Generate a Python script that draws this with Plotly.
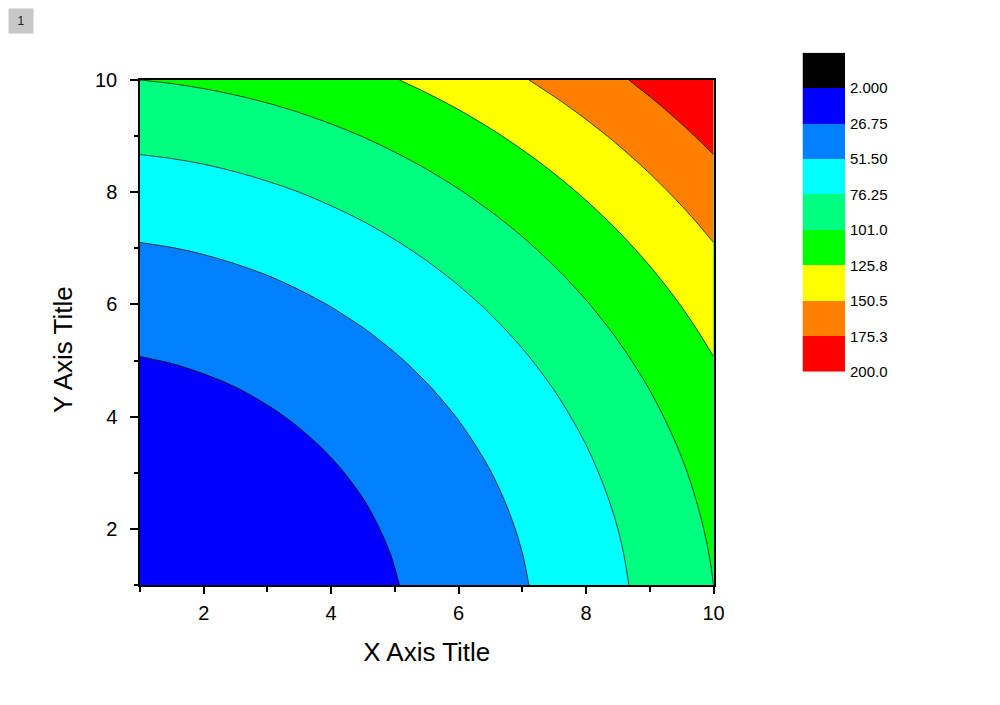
import plotly.graph_objects as go

# grid of the surface, step 0.5 from 1 to 10 on both axes
x_vals = [1, 1.5, 2, 2.5, 3, 3.5, 4, 4.5, 5, 5.5, 6, 6.5, 7, 7.5, 8, 8.5, 9, 9.5, 10]
y_vals = [1, 1.5, 2, 2.5, 3, 3.5, 4, 4.5, 5, 5.5, 6, 6.5, 7, 7.5, 8, 8.5, 9, 9.5, 10]
z_grid = [
    [2, 3.25, 5, 7.25, 10, 13.25, 17, 21.25, 26, 31.25, 37, 43.25, 50, 57.25, 65, 73.25, 82, 91.25, 101],
    [3.25, 4.5, 6.25, 8.5, 11.25, 14.5, 18.25, 22.5, 27.25, 32.5, 38.25, 44.5, 51.25, 58.5, 66.25, 74.5, 83.25, 92.5, 102.25],
    [5, 6.25, 8, 10.25, 13, 16.25, 20, 24.25, 29, 34.25, 40, 46.25, 53, 60.25, 68, 76.25, 85, 94.25, 104],
    [7.25, 8.5, 10.25, 12.5, 15.25, 18.5, 22.25, 26.5, 31.25, 36.5, 42.25, 48.5, 55.25, 62.5, 70.25, 78.5, 87.25, 96.5, 106.25],
    [10, 11.25, 13, 15.25, 18, 21.25, 25, 29.25, 34, 39.25, 45, 51.25, 58, 65.25, 73, 81.25, 90, 99.25, 109],
    [13.25, 14.5, 16.25, 18.5, 21.25, 24.5, 28.25, 32.5, 37.25, 42.5, 48.25, 54.5, 61.25, 68.5, 76.25, 84.5, 93.25, 102.5, 112.25],
    [17, 18.25, 20, 22.25, 25, 28.25, 32, 36.25, 41, 46.25, 52, 58.25, 65, 72.25, 80, 88.25, 97, 106.25, 116],
    [21.25, 22.5, 24.25, 26.5, 29.25, 32.5, 36.25, 40.5, 45.25, 50.5, 56.25, 62.5, 69.25, 76.5, 84.25, 92.5, 101.25, 110.5, 120.25],
    [26, 27.25, 29, 31.25, 34, 37.25, 41, 45.25, 50, 55.25, 61, 67.25, 74, 81.25, 89, 97.25, 106, 115.25, 125],
    [31.25, 32.5, 34.25, 36.5, 39.25, 42.5, 46.25, 50.5, 55.25, 60.5, 66.25, 72.5, 79.25, 86.5, 94.25, 102.5, 111.25, 120.5, 130.25],
    [37, 38.25, 40, 42.25, 45, 48.25, 52, 56.25, 61, 66.25, 72, 78.25, 85, 92.25, 100, 108.25, 117, 126.25, 136],
    [43.25, 44.5, 46.25, 48.5, 51.25, 54.5, 58.25, 62.5, 67.25, 72.5, 78.25, 84.5, 91.25, 98.5, 106.25, 114.5, 123.25, 132.5, 142.25],
    [50, 51.25, 53, 55.25, 58, 61.25, 65, 69.25, 74, 79.25, 85, 91.25, 98, 105.25, 113, 121.25, 130, 139.25, 149],
    [57.25, 58.5, 60.25, 62.5, 65.25, 68.5, 72.25, 76.5, 81.25, 86.5, 92.25, 98.5, 105.25, 112.5, 120.25, 128.5, 137.25, 146.5, 156.25],
    [65, 66.25, 68, 70.25, 73, 76.25, 80, 84.25, 89, 94.25, 100, 106.25, 113, 120.25, 128, 136.25, 145, 154.25, 164],
    [73.25, 74.5, 76.25, 78.5, 81.25, 84.5, 88.25, 92.5, 97.25, 102.5, 108.25, 114.5, 121.25, 128.5, 136.25, 144.5, 153.25, 162.5, 172.25],
    [82, 83.25, 85, 87.25, 90, 93.25, 97, 101.25, 106, 111.25, 117, 123.25, 130, 137.25, 145, 153.25, 162, 171.25, 181],
    [91.25, 92.5, 94.25, 96.5, 99.25, 102.5, 106.25, 110.5, 115.25, 120.5, 126.25, 132.5, 139.25, 146.5, 154.25, 162.5, 171.25, 180.5, 190.25],
    [101, 102.25, 104, 106.25, 109, 112.25, 116, 120.25, 125, 130.25, 136, 142.25, 149, 156.25, 164, 172.25, 181, 190.25, 200],
]

level_start = 2.0
level_end = 200.0
level_step = 24.75

# below-start colour first, then one colour per band
band_colors = [
    "#000000", "#0000ff", "#0080ff", "#00ffff", "#00ff80",
    "#00ff00", "#ffff00", "#ff8000", "#ff0000",
]
level_labels = ["2.000", "26.75", "51.50", "76.25", "101.0", "125.8", "150.5", "175.3", "200.0"]

FONT = "Liberation Sans, Arial, sans-serif"

# page has an 8px body margin, so pixel targets are shifted by 8
L, R, T, B = 132, 100, 42, 128
PW = 1000 - L - R
PH = 705 - T - B


def px_x(page_x):
    return (page_x - 8 - L) / PW


def px_y(page_y):
    return (705 - B - (page_y - 8)) / PH


# stepped colorscale: node j/9 -> band j (band 9 = above end, reuse red)
fill_colors = band_colors + [band_colors[-1]]
n = len(fill_colors) - 1
contour_scale = []
for j, c in enumerate(fill_colors):
    contour_scale.append([max(0.0, (j - 0.5) / n), c])
    contour_scale.append([min(1.0, (j + 0.5) / n), c])

fig = go.Figure()
fig.add_trace(
    go.Contour(
        x=x_vals,
        y=y_vals,
        z=z_grid,
        colorscale=contour_scale,
        autocontour=False,
        contours=dict(start=level_start, end=level_end, size=level_step, coloring="fill", showlines=True),
        line=dict(color="black", width=0.7, smoothing=1.0),
        showscale=False,
        hovertemplate="x: %{x}<br>y: %{y}<br>z: %{z}<extra></extra>",
    )
)

# hand-built colour bar (reversed, with the below-range box on top)
m = len(band_colors) - 1
bar_scale = [[k / m, c] for k, c in enumerate(band_colors)]
fig.add_trace(
    go.Heatmap(
        x=[0],
        y=list(range(len(band_colors))),
        z=[[k] for k in range(len(band_colors))],
        colorscale=bar_scale,
        zmin=0,
        zmax=m,
        showscale=False,
        xaxis="x2",
        yaxis="y2",
        hoverinfo="skip",
    )
)

axis_common = dict(
    showline=True,
    linecolor="black",
    linewidth=1.5,
    mirror=True,
    ticks="outside",
    tickwidth=1.5,
    tickcolor="black",
    showgrid=False,
    zeroline=False,
    tickfont=dict(family=FONT, size=20, color="black"),
    tickvals=[2, 4, 6, 8, 10],
    range=[1, 10],
)

fig.update_layout(
    width=1000,
    height=705,
    margin=dict(l=L, r=R, t=T, b=B),
    paper_bgcolor="white",
    plot_bgcolor="white",
    showlegend=False,
    font=dict(family=FONT, color="black"),
    xaxis=dict(
        axis_common,
        domain=[0, px_x(713.5)],
        ticklen=7,
        ticklabelstandoff=2,
        minor=dict(tickvals=[1, 3, 5, 7, 9], ticks="outside", ticklen=5, tickwidth=1.5, tickcolor="black"),
        title=dict(text="X Axis Title", font=dict(family=FONT, size=26), standoff=20),
    ),
    yaxis=dict(
        axis_common,
        domain=[0, px_y(80)],
        ticklen=8,
        ticklabelstandoff=9,
        minor=dict(tickvals=[1, 3, 5, 7, 9], ticks="outside", ticklen=4, tickwidth=1.5, tickcolor="black"),
    ),
    xaxis2=dict(
        domain=[px_x(802.5), px_x(845)],
        anchor="y2",
        visible=False,
        range=[-0.5, 0.5],
    ),
    yaxis2=dict(
        domain=[px_y(371.7), px_y(52.7)],
        anchor="x2",
        side="right",
        range=[m + 0.5, -0.5],
        tickvals=[k + 0.5 for k in range(len(level_labels))],
        ticktext=level_labels,
        ticks="",
        showline=False,
        showgrid=False,
        zeroline=False,
        tickfont=dict(family=FONT, size=15, color="black"),
        ticklabelstandoff=4,
    ),
    annotations=[
        dict(
            text="Y Axis Title",
            textangle=-90,
            xref="paper",
            yref="paper",
            x=px_x(63),
            y=px_y(350),
            xanchor="center",
            yanchor="middle",
            showarrow=False,
            font=dict(family=FONT, size=26, color="black"),
        ),
        dict(
            text="1",
            xref="paper",
            yref="paper",
            x=px_x(8),
            y=px_y(8),
            xanchor="left",
            yanchor="top",
            showarrow=False,
            bgcolor="#c8c8c8",
            borderpad=5,
            width=14,
            font=dict(family=FONT, size=12, color="#222222"),
        ),
    ],
)

fig.write_html("out.html")
